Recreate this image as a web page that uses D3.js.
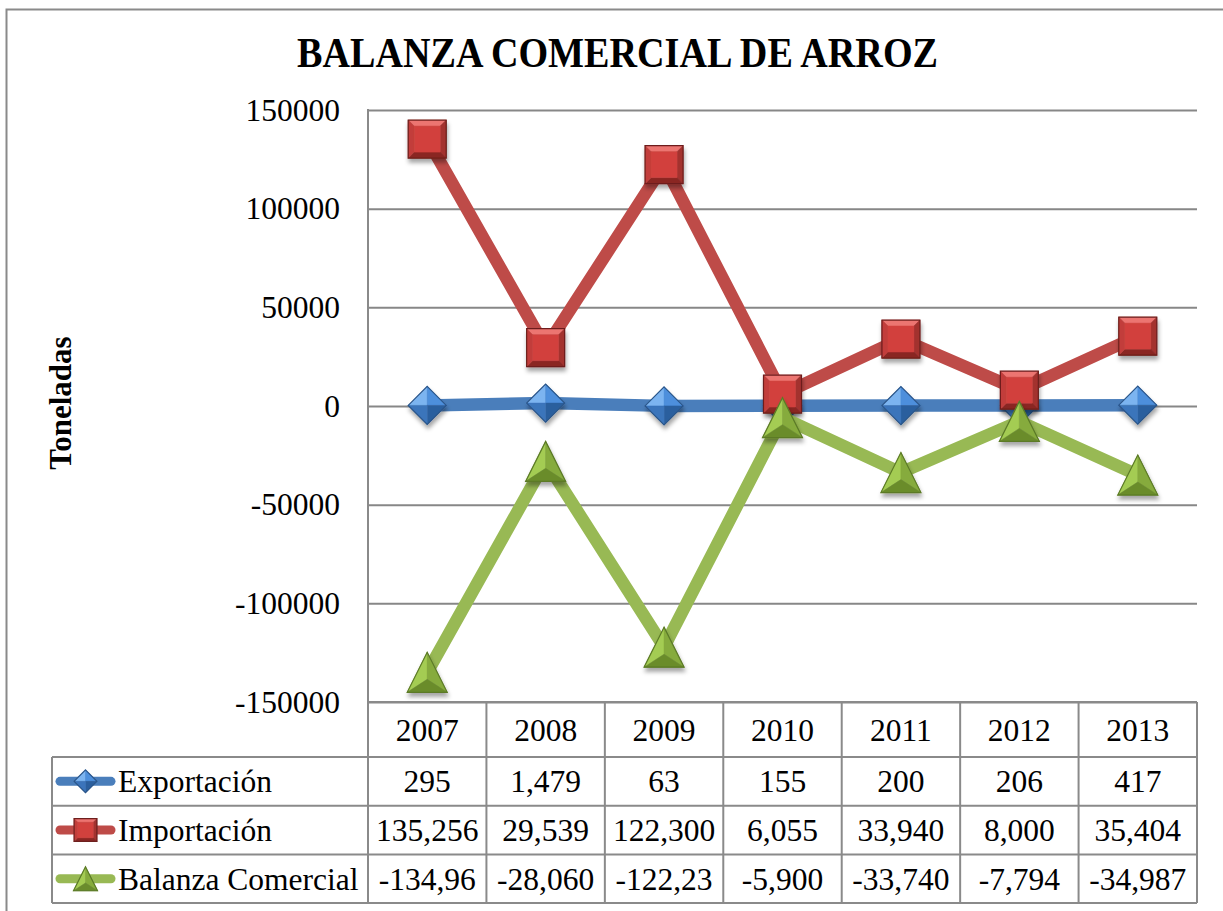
<!DOCTYPE html>
<html>
<head>
<meta charset="utf-8">
<script src="https://cdn.jsdelivr.net/npm/d3@7"></script>
<style>
  html, body { margin: 0; padding: 0; background: #fff; }
  svg { display: block; font-family: "Liberation Serif", "Times New Roman", serif; }
</style>
</head>
<body>
<script>
/* global d3 */

// values
const years = ['2007', '2008', '2009', '2010', '2011', '2012', '2013'];
const exportacion = [295, 1479, 63, 155, 200, 206, 417];
const importacion = [135256, 29539, 122300, 6055, 33940, 8000, 35404];
const balanza = [-134961, -28060, -122237, -5900, -33740, -7794, -34987];
const yTicks = [150000, 100000, 50000, 0, -50000, -100000, -150000];

const seriesNames = ['Exportación', 'Importación', 'Balanza Comercial'];

const width = 1223;
const height = 911;
const plot = { left: 368, right: 1197, top: 110, bottom: 702 };
const legendLeft = 52;
const headerH = 55;
const rowH = 48.7;
const textSize = 31.5;

const fmt = d3.formatLocale({
  decimal: '.', thousands: ',', grouping: [3], currency: ['$', ''], minus: '-',
});
const tickFmt = fmt.format('d');
const cellFmt = fmt.format(',d');

const x = d3.scaleBand().domain(years).range([plot.left, plot.right]);
const cx = d => x(d) + x.bandwidth() / 2;
const y = d3.scaleLinear().domain([-150000, 150000]).range([plot.bottom, plot.top]);

const svg = d3.select('body').append('svg')
  .attr('width', width)
  .attr('height', height);

const defs = svg.append('defs');
defs.append('filter')
  .attr('id', 'shadow')
  .attr('x', '-50%').attr('y', '-50%').attr('width', '200%').attr('height', '200%')
  .append('feDropShadow')
    .attr('dx', 1).attr('dy', 4)
    .attr('stdDeviation', 2.2)
    .attr('flood-color', '#000')
    .attr('flood-opacity', 0.35);

// outer chart frame
svg.append('rect')
  .attr('x', 6.5).attr('y', 9.5)
  .attr('width', width + 20).attr('height', height + 20)
  .attr('fill', 'none')
  .attr('stroke', '#8a8a8a')
  .attr('stroke-width', 2);

// title
svg.append('text')
  .attr('x', 617.5).attr('y', 67)
  .attr('text-anchor', 'middle')
  .attr('font-size', 43)
  .attr('font-weight', 'bold')
  .attr('textLength', 641)
  .attr('lengthAdjust', 'spacingAndGlyphs')
  .text('BALANZA COMERCIAL DE ARROZ');

// y axis title
svg.append('text')
  .attr('transform', 'translate(71,403) rotate(-90)')
  .attr('text-anchor', 'middle')
  .attr('font-size', 31)
  .attr('font-weight', 'bold')
  .text('Toneladas');

// gridlines
svg.append('g')
  .attr('transform', `translate(${plot.left},0)`)
  .call(d3.axisLeft(y).tickValues(yTicks).tickSize(-(plot.right - plot.left)).tickFormat(''))
  .call(g => g.select('.domain').remove())
  .call(g => g.selectAll('.tick line').attr('stroke', '#878787').attr('stroke-width', 2));

// tick labels
svg.append('g')
  .attr('transform', `translate(${plot.left},0)`)
  .call(d3.axisLeft(y).tickValues(yTicks).tickSize(0).tickPadding(28).tickFormat(tickFmt))
  .call(g => g.select('.domain').remove())
  .call(g => g.selectAll('.tick text')
    .attr('font-family', '"Liberation Serif", serif')
    .attr('font-size', textSize)
    .attr('fill', '#000'));

// ---- data table ----
const tableTop = plot.bottom;
const rowTops = seriesNames.map((s, i) => tableTop + headerH + i * rowH);
const tableBottom = tableTop + headerH + seriesNames.length * rowH;
const table = svg.append('g').attr('stroke', '#8a8a8a').attr('stroke-width', 2);

// horizontal lines
table.append('line')
  .attr('x1', plot.left).attr('x2', plot.right)
  .attr('y1', tableTop).attr('y2', tableTop);
table.selectAll('line.row').data(rowTops.concat([tableBottom]))
  .enter().append('line')
    .attr('class', 'row')
    .attr('x1', legendLeft).attr('x2', plot.right)
    .attr('y1', d => d).attr('y2', d => d);
// vertical lines
table.selectAll('line.col').data(years.slice(1).concat(['end']))
  .enter().append('line')
    .attr('class', 'col')
    .attr('x1', d => (d === 'end' ? plot.right : x(d)))
    .attr('x2', d => (d === 'end' ? plot.right : x(d)))
    .attr('y1', tableTop).attr('y2', tableBottom);
table.append('line')
  .attr('x1', legendLeft).attr('x2', legendLeft)
  .attr('y1', rowTops[0]).attr('y2', tableBottom);
// axis line on the left of plot and table
table.append('line')
  .attr('x1', plot.left).attr('x2', plot.left)
  .attr('y1', plot.top - 1).attr('y2', tableBottom);

// year header
svg.append('g').selectAll('text').data(years)
  .enter().append('text')
    .attr('x', cx)
    .attr('y', tableTop + headerH / 2)
    .attr('dy', '0.35em')
    .attr('text-anchor', 'middle')
    .attr('font-size', textSize)
    .text(d => d);

// value cells, clipped like the original when too wide
const allSeries = [exportacion, importacion, balanza];
const maxCellText = 105;
allSeries.forEach((vals, i) => {
  svg.append('g').selectAll('text').data(vals)
    .enter().append('text')
      .attr('x', (d, j) => cx(years[j]))
      .attr('y', rowTops[i] + rowH / 2)
      .attr('dy', '0.35em')
      .attr('text-anchor', 'middle')
      .attr('font-size', textSize)
      .text(d => cellFmt(d))
      .each(function () {
        const t = d3.select(this);
        let s = t.text();
        while (this.getComputedTextLength() > maxCellText && s.length > 1) {
          s = s.slice(0, -1);
          t.text(s);
        }
      });
});

// ---- bevelled markers ----
function markerFacets(shape, k) {
  if (shape === 'diamond') {
    const r = 19 * k;
    const T = [0, -r], R = [r, 0], B = [0, r], L = [-r, 0], C = [0, 0];
    return [
      { p: [L, T, C], f: '#7cb4f0' },
      { p: [T, R, C], f: '#4d8fdc' },
      { p: [R, B, C], f: '#2b5f9e' },
      { p: [B, L, C], f: '#3b74bb' },
    ];
  }
  if (shape === 'square') {
    const h = 19 * k, i = 6 * k;
    const o = [[-h, -h], [h, -h], [h, h], [-h, h]];
    const n = [[-h + i, -h + i], [h - i, -h + i], [h - i, h - i], [-h + i, h - i]];
    return [
      { p: [o[0], o[1], n[1], n[0]], f: '#ec7471' },
      { p: [o[1], o[2], n[2], n[1]], f: '#a3322f' },
      { p: [o[2], o[3], n[3], n[2]], f: '#8a2724' },
      { p: [o[3], o[0], n[0], n[3]], f: '#c23e3a' },
      { p: n, f: '#d2413d' },
    ];
  }
  const h = 20 * k;
  const A = [0, -h], BL = [-h, h], BR = [h, h], C = [0, h * 0.35];
  return [
    { p: [A, BL, C], f: '#a4cc52' },
    { p: [A, BR, C], f: '#86ab3c' },
    { p: [BL, BR, C], f: '#6a8c2c' },
  ];
}

const strokeOf = { diamond: '#2a5589', square: '#6d1f1d', triangle: '#5b7a27' };

function drawMarker(g, shape, k) {
  const outline = {
    diamond: [[0, -19 * k], [19 * k, 0], [0, 19 * k], [-19 * k, 0]],
    square: [[-19 * k, -19 * k], [19 * k, -19 * k], [19 * k, 19 * k], [-19 * k, 19 * k]],
    triangle: [[0, -20 * k], [-20 * k, 20 * k], [20 * k, 20 * k]],
  }[shape];
  g.append('polygon')
    .attr('points', outline.join(' '))
    .attr('fill', '#888');
  g.selectAll('polygon.facet').data(markerFacets(shape, k))
    .enter().append('polygon')
      .attr('class', 'facet')
      .attr('points', d => d.p.join(' '))
      .attr('fill', d => d.f)
      .attr('stroke', d => d.f)
      .attr('stroke-width', 0.5);
  g.append('polygon')
    .attr('points', outline.join(' '))
    .attr('fill', 'none')
    .attr('stroke', strokeOf[shape])
    .attr('stroke-width', 1.2);
}

const series = [
  { name: seriesNames[0], values: exportacion, color: '#4a7ebb', shape: 'diamond' },
  { name: seriesNames[1], values: importacion, color: '#be4b48', shape: 'square' },
  { name: seriesNames[2], values: balanza, color: '#98b954', shape: 'triangle' },
];

const line = d3.line()
  .x((d, i) => cx(years[i]))
  .y(d => y(d));

series.forEach((s) => {
  svg.append('path')
    .datum(s.values)
    .attr('d', line)
    .attr('fill', 'none')
    .attr('stroke', s.color)
    .attr('stroke-width', 12.5)
    .attr('stroke-linejoin', 'round');
  s.values.forEach((v, i) => {
    const g = svg.append('g')
      .attr('transform', `translate(${cx(years[i])},${y(v)})`)
      .attr('filter', 'url(#shadow)');
    drawMarker(g, s.shape, 1);
  });
});

// legend keys in the table
series.forEach((s, i) => {
  const cy = rowTops[i] + rowH / 2;
  const g = svg.append('g');
  g.append('line')
    .attr('x1', 60).attr('x2', 111)
    .attr('y1', cy).attr('y2', cy)
    .attr('stroke', s.color)
    .attr('stroke-width', 9)
    .attr('stroke-linecap', 'round');
  const m = g.append('g').attr('transform', `translate(85.5,${cy})`);
  drawMarker(m, s.shape, 0.6);
  g.append('text')
    .attr('x', 118)
    .attr('y', cy)
    .attr('dy', '0.35em')
    .attr('font-size', textSize)
    .text(s.name);
});
</script>
</body>
</html>
